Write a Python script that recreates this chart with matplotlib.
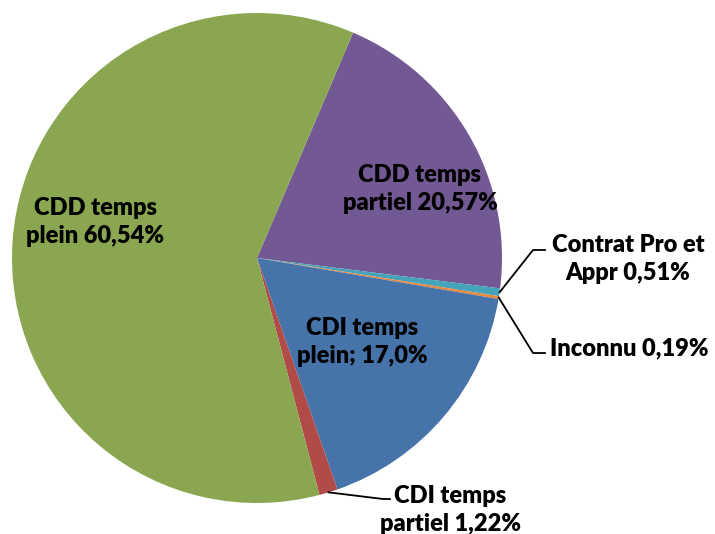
import numpy as np
import matplotlib.pyplot as plt

labels = ['CDD temps\npartiel 20,57%', 'Contrat Pro et\nAppr 0,51%', 'Inconnu 0,19%',
          'CDI temps\nplein; 17,0%', 'CDI temps\npartiel 1,22%', 'CDD temps\nplein 60,54%']
values = [20.57, 0.51, 0.19, 17.0, 1.22, 60.54]
colors = ['#735993', '#45A3BA', '#E8883C', '#4674AA', '#B04B48', '#8AA650']

W, H = 715, 534
fig = plt.figure(figsize=(W / 100, H / 100), dpi=100)
ax = fig.add_axes([0, 0, 1, 1])

cx, cy, r = 257, H - 258, 245
wedges, _ = ax.pie(values, colors=colors, startangle=90 - 23.1, counterclock=False,
                   center=(cx, cy), radius=r, frame=True,
                   wedgeprops=dict(linewidth=0))
ax.set_xlim(0, W)
ax.set_ylim(0, H)
ax.set_aspect('equal')
ax.axis('off')

font = dict(family='Lato', fontweight='heavy', fontsize=17, color='black',
            linespacing=1.38)

def pt(y):
    return H - y

def edge(w):
    a = np.deg2rad((w.theta1 + w.theta2) / 2)
    return cx + r * np.cos(a), cy + r * np.sin(a)

# labels inside
ax.text(420, pt(189), labels[0], ha='center', va='center', **font)
ax.text(362, pt(342), labels[3], ha='center', va='center', **font)
ax.text(95, pt(222), labels[5], ha='center', va='center', **font)

# labels outside with leader lines
x0, y0 = edge(wedges[1])
ax.plot([x0, 533, 545], [y0, pt(250), pt(250)], color='black', lw=1.3)
ax.text(628, pt(259), labels[1], ha='center', va='center', **font)

x0, y0 = edge(wedges[2])
ax.plot([x0, 533, 545], [y0, pt(353), pt(353)], color='black', lw=1.3)
ax.text(550, pt(348), labels[2], ha='left', va='center', **font)

x0, y0 = edge(wedges[4])
ax.plot([x0, 383, 390], [y0, pt(499), pt(499)], color='black', lw=1.3)
ax.text(450, pt(510), labels[4], ha='center', va='center', **font)

fig.savefig('out.png', dpi=100)
